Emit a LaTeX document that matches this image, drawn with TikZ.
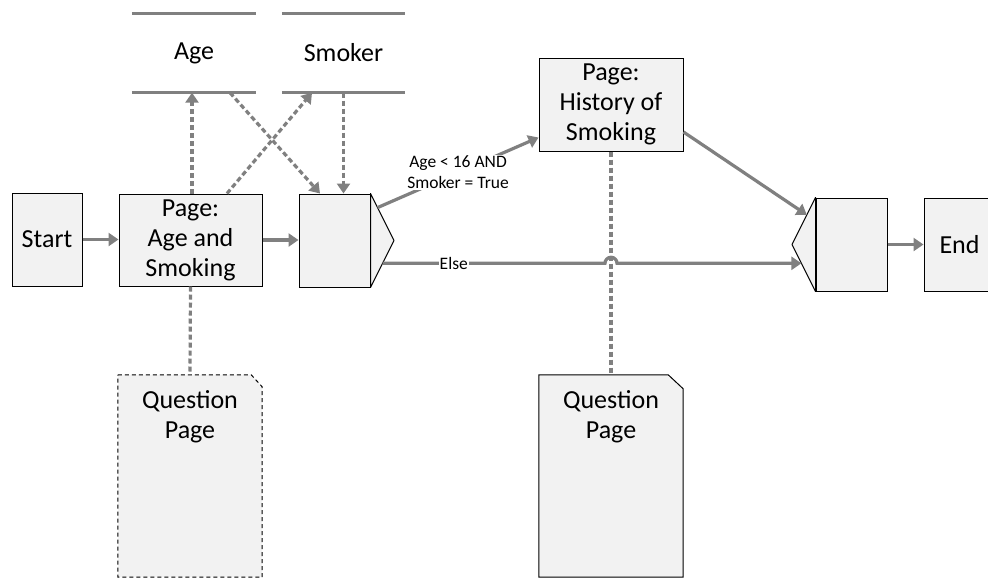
\documentclass[tikz,border=0pt]{standalone}
\usepackage{fontspec}
\setmainfont{Carlito}
\usetikzlibrary{arrows.meta,calc}
\definecolor{boxfill}{HTML}{F2F2F2}
\definecolor{wire}{HTML}{808080}
\begin{document}
\begin{tikzpicture}[x=1pt,y=-1pt,
  big/.style={font=\fontsize{26}{30}\selectfont},
  box/.style={draw=black, fill=boxfill, line width=1pt, inner sep=0pt, align=center, big},
  conn/.style={draw=wire, line width=3.2pt, -{Triangle[length=10pt,width=13pt]}},
  dconn/.style={conn, dash pattern=on 5pt off 3pt},
  dlink/.style={draw=wire, line width=3.2pt, dash pattern=on 5pt off 3pt},
  small/.style={font=\fontsize{17.5}{21}\selectfont, fill=white, inner sep=1pt, align=center},
  storeline/.style={draw=wire, line width=3.2pt},
  store/.style={minimum height=79, inner sep=0pt, big},
  page/.style={minimum width=144, minimum height=202, inner sep=0pt},
]
\clip (0,0) rectangle (988,579);
\fill[white] (0,0) rectangle (988,579);

% data stores
\node[store, minimum width=124] (ageS) at (194,53) {Age};
\node[store, minimum width=123] (smkS) at (343.5,53) {Smoker};
\draw[storeline] (ageS.north west) -- (ageS.north east) (ageS.south west) -- (ageS.south east);
\draw[storeline] (smkS.north west) -- (smkS.north east) (smkS.south west) -- (smkS.south east);

% process boxes
\node[box, minimum width=70, minimum height=93] (start) at (47,239.5) {Start};
\node[box, minimum width=143, minimum height=92] (pageA) at (190.5,240) {Page:\\Age and\\Smoking};
\node[box, minimum width=144, minimum height=93] (hist) at (611,104.5) {Page:\\History of\\Smoking};
\node[box, minimum width=71, minimum height=93] (end) at (959.5,244.5) {End};

% decision (split) and merge shapes
\node[box, minimum width=71, minimum height=93] (dec1) at (334.5,240.5) {};
\coordinate (dec1tip) at (394,240.5);
\filldraw[draw=black, fill=boxfill, line width=1pt, line join=round]
  (dec1.north east) -- (dec1tip) -- (dec1.south east) -- cycle;
\node[box, minimum width=71, minimum height=93] (dec2) at (851.5,244.5) {};
\coordinate (dec2tip) at (792,244.5);
\filldraw[draw=black, fill=boxfill, line width=1pt, line join=round]
  (dec2.north west) -- (dec2tip) -- (dec2.south west) -- cycle;

% question pages
\node[page] (qA) at (190,476) {};
\draw[black, line width=1pt, dash pattern=on 4pt off 3pt, fill=boxfill]
  (qA.north west) -- ([xshift=-11pt]qA.north east) -- ([yshift=-12pt]qA.north east)
  -- (qA.south east) -- (qA.south west) -- cycle;
\node[big, align=center, anchor=north, inner sep=0pt] (qAtext) at ([yshift=-16pt]qA.north) {Question\\Page};
\node[page] (qB) at (611,476) {};
\draw[black, line width=1pt, fill=boxfill]
  (qB.north west) -- ([xshift=-15pt]qB.north east) -- ([yshift=-14pt]qB.north east)
  -- (qB.south east) -- (qB.south west) -- cycle;
\node[big, align=center, anchor=north, inner sep=0pt] (qBtext) at ([yshift=-16pt]qB.north) {Question\\Page};

% page-to-question links
\draw[dlink] (pageA.south) -- (qA.north);
\draw[dlink] (hist.south) -- (qB.north);

% data flows to and from the stores
\coordinate (ageUp) at (192,0);
\draw[dconn] (pageA.north -| ageUp) -- (ageS.south -| ageUp);
\draw[dconn] ([xshift=36.5pt]pageA.north) -- ([xshift=-31.5pt]smkS.south);
\draw[dconn] ([xshift=36pt]ageS.south) -- ([xshift=-14.5pt]dec1.north);
\draw[dconn] (smkS.south) -- (smkS.south |- dec1.north);

% sequence flow
\draw[conn] (start.east) -- (start.east -| pageA.west);
\draw[conn] (pageA.east) -- (pageA.east -| dec1.west);
\draw[conn] (dec2.east) -- (dec2.east -| end.west);

\coordinate (d1up) at ($(dec1.north east)!0.3!(dec1tip)$);
\draw[conn] (d1up) -- node[small]{Age < 16 AND\\Smoker = True} ([yshift=14pt]hist.south west);

\coordinate (d1lo) at ($(dec1tip)!0.484!(dec1.south east)$);
\coordinate (d2lo) at ($(dec2tip)!0.4!(dec2.south west)$);
\draw[conn] (d1lo) -- node[small, pos=0.32]{Else} ([xshift=-6pt]qB.north |- d1lo)
  arc[start angle=180, end angle=0, radius=6pt] -- (d2lo);

\coordinate (d2up) at ($(dec2.north west)!0.37!(dec2tip)$);
\draw[conn] ([yshift=-27.5pt]hist.east) -- (d2up);
\end{tikzpicture}
\end{document}
